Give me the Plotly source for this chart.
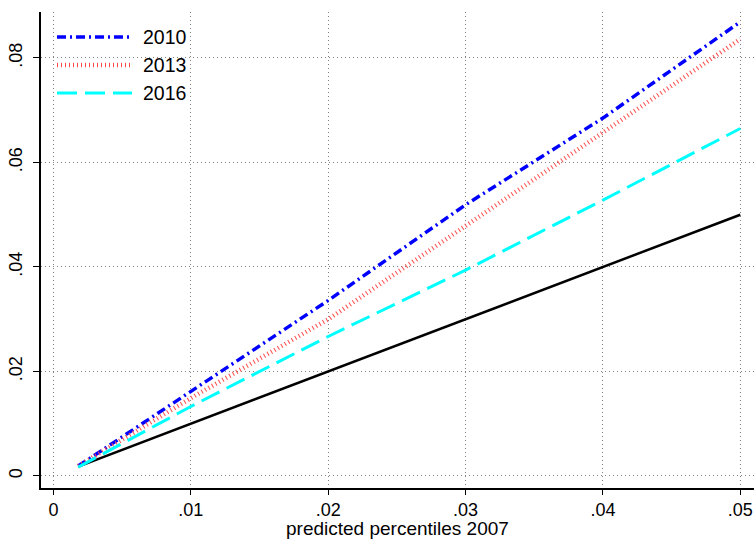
import plotly.graph_objects as go

x = [0.0018, 0.01, 0.02, 0.03, 0.04, 0.05]
y2010 = [0.0019, 0.0161, 0.0336, 0.0519, 0.0685, 0.0869]
y2013 = [0.0019, 0.0149, 0.0300, 0.0478, 0.0656, 0.0836]
y2016 = [0.0017, 0.0133, 0.0267, 0.0394, 0.0528, 0.0665]
y_ref = [0.0018, 0.01, 0.02, 0.03, 0.04, 0.05]

xticks = [0, 0.01, 0.02, 0.03, 0.04, 0.05]
xticklabels = ["0", ".01", ".02", ".03", ".04", ".05"]
yticks = [0, 0.02, 0.04, 0.06, 0.08]
yticklabels = ["0", ".02", ".04", ".06", ".08"]
names = ["2010", "2013", "2016"]
x_title = "predicted percentiles 2007"

styles = [
    dict(color="#0000ff", width=3.5, dash="9px,4px,2px,4px"),
    dict(color="#ff4a4a", width=4.5, dash="1px,3px"),
    dict(color="#00ffff", width=3, dash="20px,8px"),
]

fig = go.Figure()
fig.add_trace(go.Scatter(x=x, y=y_ref, mode="lines", line=dict(color="black", width=2.5), showlegend=False))
for name, ys, st in zip(names, [y2010, y2013, y2016], styles):
    fig.add_trace(go.Scatter(x=x, y=ys, mode="lines", name=name, line=st, showlegend=False))

# manual legend (pixel-placed in paper coords)
L, R, T, B = 41, 754, 12, 488
W, H = R - L, B - T
def px(v):
    return (v - L) / W
def py(v):
    return 1 - (v - T) / H
for i, (name, st) in enumerate(zip(names, styles)):
    yy = 37 + 28 * i
    fig.add_shape(type="line", xref="paper", yref="paper", x0=px(57), x1=px(132), y0=py(yy), y1=py(yy),
                  line=st)
    fig.add_annotation(xref="paper", yref="paper", x=px(141), y=py(yy), text=name, showarrow=False,
                       xanchor="left", yanchor="middle", font=dict(size=19.5, color="black"))

# x-axis title
fig.add_annotation(xref="paper", yref="paper", x=0.5, y=py(528), text=x_title, showarrow=False,
                   xanchor="center", yanchor="middle", font=dict(size=19, color="black"))

grid = dict(showgrid=True, gridcolor="#808080", griddash="1px,3px", gridwidth=1)
fig.update_layout(
    width=754, height=540,
    margin=dict(l=L, r=754 - R, t=T, b=540 - B),
    paper_bgcolor="white", plot_bgcolor="white",
    font=dict(family="Liberation Sans, Arial, sans-serif", size=18, color="black"),
    xaxis=dict(range=[-0.00091, 0.0510], tickvals=xticks, ticktext=xticklabels, automargin=False,
               showline=True, linecolor="black", linewidth=1.5, ticks="outside", ticklen=5,
               tickcolor="black", zeroline=False, **grid),
    yaxis=dict(range=[-0.0023, 0.0888], tickvals=yticks, ticktext=yticklabels, tickangle=-90,
               automargin=False,
               showline=True, linecolor="black", linewidth=1.5, ticks="outside", ticklen=6,
               tickcolor="black", zeroline=False, ticklabelstandoff=4, **grid),
)
fig.write_html("out.html")
